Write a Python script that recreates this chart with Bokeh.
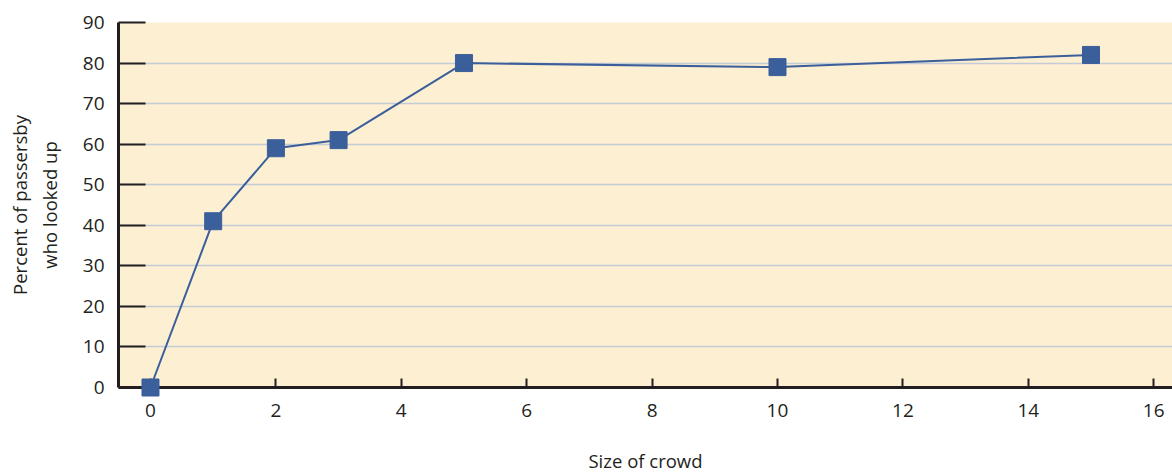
from bokeh.plotting import figure
from bokeh.models import FixedTicker, Range1d
from bokeh.embed import file_html
from bokeh.resources import INLINE

crowd_size = [0, 1, 2, 3, 5, 10, 15]
percent_looked_up = [0, 41, 59, 61, 80, 79, 82]
x_ticks = [0, 2, 4, 6, 8, 10, 12, 14, 16]
y_ticks = [0, 10, 20, 30, 40, 50, 60, 70, 80, 90]
grid_ticks = [10, 20, 30, 40, 50, 60, 70, 80]

FONT = "Open Sans"
BLUE = "#3b5f9b"

p = figure(width=1172, height=475, output_backend="svg", toolbar_location=None,
           x_range=Range1d(-0.51, 16.30), y_range=Range1d(0, 90),
           min_border_left=118, min_border_right=0, min_border_top=22, min_border_bottom=87)

p.background_fill_color = "#fdefd2"
p.border_fill_color = "white"
p.outline_line_color = None

p.line(crowd_size, percent_looked_up, line_color=BLUE, line_width=2)
p.scatter(crowd_size, percent_looked_up, marker="square", size=17,
          fill_color=BLUE, line_color=BLUE, level="overlay")

p.xgrid.grid_line_color = None
p.ygrid.ticker = FixedTicker(ticks=grid_ticks)
p.ygrid.grid_line_color = "#c3cbd6"
p.ygrid.grid_line_width = 1.5

for ax in (p.xaxis[0], p.yaxis[0]):
    ax.axis_line_color = "#231f20"
    ax.axis_line_width = 3
    ax.major_tick_line_color = "#231f20"
    ax.major_tick_line_width = 2
    ax.minor_tick_line_color = None
    ax.major_label_text_font = FONT
    ax.major_label_text_font_size = "19px"
    ax.major_label_text_color = "#231f20"
    ax.axis_label_text_font = FONT
    ax.axis_label_text_font_size = "18.5px"
    ax.axis_label_text_font_style = "normal"
    ax.axis_label_text_color = "#231f20"

p.xaxis.ticker = FixedTicker(ticks=x_ticks)
p.xaxis.major_tick_in = 9
p.xaxis.major_tick_out = 0
p.xaxis.major_label_standoff = 16
p.xaxis.axis_label = "Size of crowd"
p.xaxis.axis_label_standoff = 28

p.yaxis.ticker = FixedTicker(ticks=y_ticks)
p.yaxis.major_tick_in = 27
p.yaxis.major_tick_out = 0
p.yaxis.major_label_standoff = 14
p.yaxis.axis_label = "Percent of passersby\nwho looked up"
p.yaxis.axis_label_standoff = 18

open("out.html", "w").write(file_html(p, INLINE))
